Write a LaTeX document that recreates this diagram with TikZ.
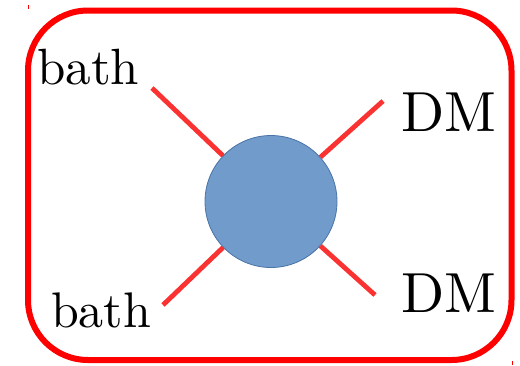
\documentclass[tikz,border=0pt]{standalone}
\usepackage{graphicx}
\definecolor{frame}{RGB}{255,0,0}
\definecolor{leg}{RGB}{250,50,50}
\definecolor{blob}{RGB}{112,155,203}
\definecolor{blobedge}{RGB}{74,115,166}
\newcommand{\biglbl}[2]{\scalebox{#1}{\fontsize{10}{12}\selectfont #2}}
\begin{document}
\begin{tikzpicture}[x=1pt,y=-1pt,
  lbl/.style={inner sep=0pt,anchor=base west},
  legline/.style={draw=leg,line width=4.8pt},
  tick/.style={draw=frame,line width=0.8pt}]
\useasboundingbox (0,0) rectangle (520,365);
\draw[draw=frame,line width=6pt,rounded corners=60pt] (28,10.5) rectangle (511.5,360);
\node[circle,fill=blob,draw=blobedge,line width=0.8pt,minimum size=132pt,inner sep=0pt] (c) at (271,201.5) {};
\coordinate (ul) at (152,88);
\coordinate (ur) at (383,101);
\coordinate (ll) at (163,305);
\coordinate (lr) at (375,295);
\path[legline] (ul) -- (c);
\path[legline] (ur) -- (c);
\path[legline] (ll) -- (c);
\path[legline] (lr) -- (c);
\node[lbl] (t1) at (37,84) {\biglbl{5.1}{bath}};
\node[lbl] (t2) at (51,327) {\biglbl{5.0}{bath}};
\node[lbl] (t3) at (401,131) {\biglbl{5.65}{DM}};
\node[lbl] (t4) at (401,312) {\biglbl{5.65}{DM}};
\coordinate (k1a) at (28,5); \coordinate (k1b) at (28,9);
\coordinate (k2a) at (512,361); \coordinate (k2b) at (512,365);
\path[tick] (k1a) -- (k1b);
\path[tick] (k2a) -- (k2b);
\end{tikzpicture}
\end{document}
